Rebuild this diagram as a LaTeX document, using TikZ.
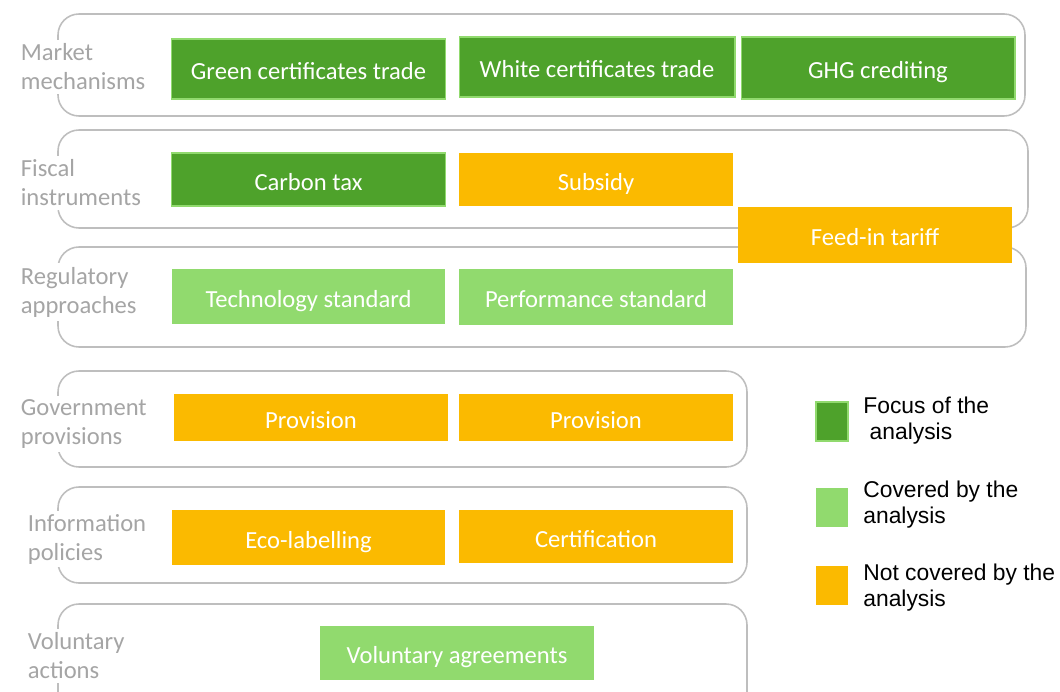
\documentclass[tikz,border=0pt]{standalone}
\usepackage{fontspec}
\setmainfont{Carlito}
\newfontfamily\legendfont{Liberation Sans}
\usepackage{tikz}
\definecolor{focusgreen}{RGB}{78,162,43}
\definecolor{coveredgreen}{RGB}{145,218,110}
\definecolor{notcovered}{RGB}{251,186,0}
\definecolor{grpgray}{RGB}{190,190,190}
\definecolor{lblgray}{RGB}{165,165,165}
\tikzset{%
  grp/.style        = {draw=grpgray, line width=0.9pt, rounded corners=0.42cm},%
  lbl/.style        = {anchor=west, align=left, fill=white, text=lblgray,%
                       font=\fontsize{14}{16.5}\selectfont, inner sep=2pt},%
  policy/.style     = {rectangle, minimum width=5.48cm, minimum height=1.1cm,%
                       text=white, font=\fontsize{14}{16.5}\selectfont, inner sep=0pt,%
                       text height=12.4pt, text depth=0pt},%
  focus/.style      = {policy, fill=focusgreen, draw=coveredgreen, line width=0.6pt},%
  covered/.style    = {policy, fill=coveredgreen},%
  notcov/.style     = {policy, fill=notcovered},%
  keybox/.style     = {rectangle, minimum width=0.64cm, minimum height=0.78cm, inner sep=0pt},%
  keytext/.style    = {anchor=west, align=left, font=\legendfont\fontsize{13}{14.5}\selectfont,%
                       inner sep=0pt}%
}
\begin{document}
\begin{tikzpicture}[x=0.02cm,y=-0.02cm]%
	\useasboundingbox (0,0) rectangle (1060,692);%
	\clip (0,0) rectangle (1060,692);%
	% group frames
	\draw[grp] (58,14) rectangle (1025,116);%
	\draw[grp] (58,130) rectangle (1028,228);%
	\draw[grp] (58,247) rectangle (1026,347);%
	\draw[grp] (58,371) rectangle (747,467);%
	\draw[grp] (58,487) rectangle (747,583);%
	\draw[grp] (58,604) rectangle (747,720);%
	% group labels
	\node[lbl] (market) at (17,67) {Market\\mechanisms};%
	\node[lbl] (fiscal) at (17,183) {Fiscal\\instruments};%
	\node[lbl] (regul) at (17,292) {Regulatory\\approaches};%
	\node[lbl] (govern) at (17,424) {Government\\provisions};%
	\node[lbl] (inform) at (24,539) {Information\\policies};%
	\node[lbl] (volunt) at (24,656) {Voluntary\\actions};%
	% instruments
	\node[focus, minimum height=1.2cm] (greencert) at (308.5,69) {Green certificates trade};%
	\node[focus, minimum height=1.2cm, minimum width=5.52cm] (whitecert) at (597,67) {White certificates trade};%
	\node[focus, minimum height=1.24cm] (ghg) at (878,68) {GHG crediting};%
	\node[focus, minimum height=1.06cm] (carbontax) at (308.5,179.5) {Carbon tax};%
	\node[notcov, minimum height=1.06cm] (subsidy) at (596,179.5) {Subsidy};%
	\node[notcov, minimum height=1.12cm] (feedin) at (875,235) {Feed-in tariff};%
	\node[covered] (techstd) at (308.5,296.5) {Technology standard};%
	\node[covered, minimum height=1.12cm] (perfstd) at (596,297) {Performance standard};%
	\node[notcov, minimum height=0.94cm] (provA) at (311,417.5) {Provision};%
	\node[notcov, minimum height=0.94cm] (provB) at (596,417.5) {Provision};%
	\node[notcov] (ecolab) at (308.5,537.5) {Eco-labelling};%
	\node[notcov, minimum height=1.06cm] (certif) at (596,536.5) {Certification};%
	\node[covered, minimum height=1.08cm] (volagr) at (457,653) {Voluntary agreements};%
	% legend
	\node[keybox, fill=focusgreen, draw=coveredgreen, line width=0.6pt] (keyfocus) at (832,421.5) {};%
	\node[keybox, fill=coveredgreen] (keycov) at (832,507) {};%
	\node[keybox, fill=notcovered] (keynot) at (832,585) {};%
	\node[keytext] (txtfocus) at (863,420.5) {Focus of the\\~analysis};%
	\node[keytext] (txtcov) at (863,504.5) {Covered by the\\analysis};%
	\node[keytext] (txtnot) at (863,587.5) {Not covered by the\\analysis};%
\end{tikzpicture}
\end{document}
